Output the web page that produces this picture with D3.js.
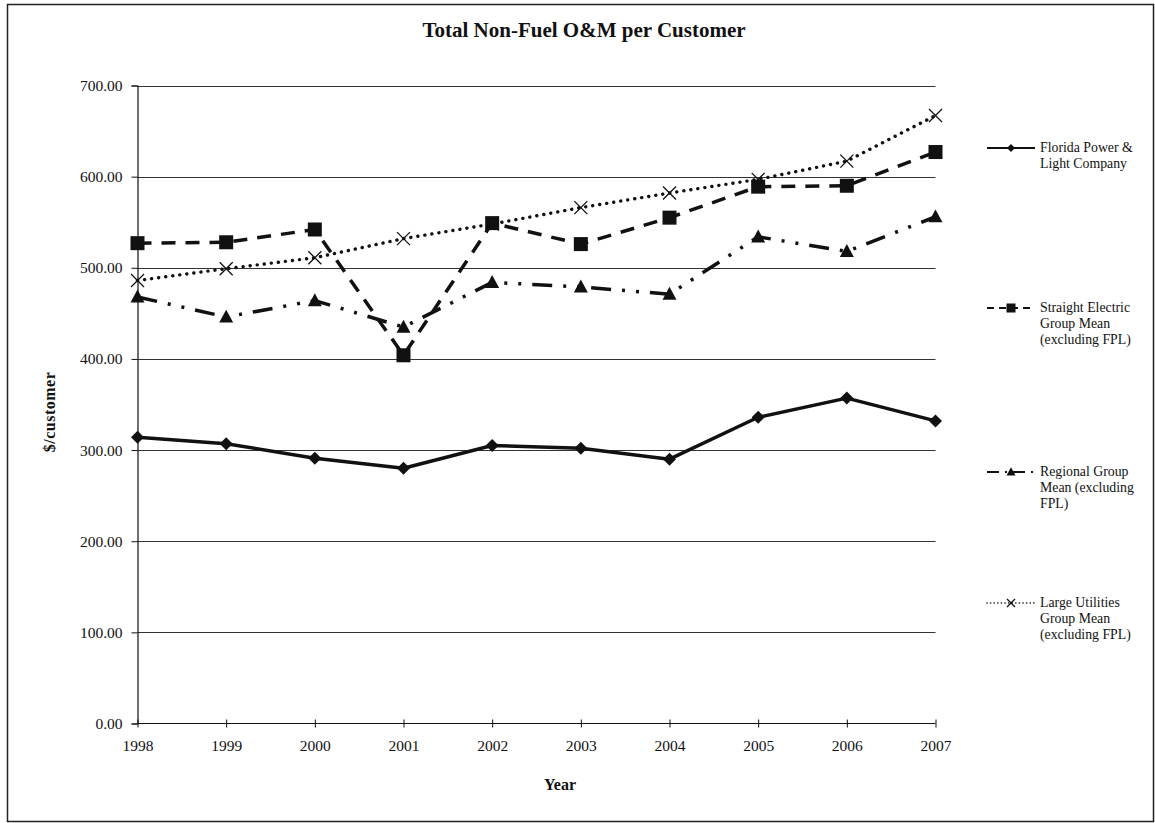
<!DOCTYPE html>
<html>
<head>
<meta charset="utf-8">
<script src="https://cdn.jsdelivr.net/npm/d3@7"></script>
<style>
  html, body { margin: 0; padding: 0; background: #fff; }
  svg text { font-family: "Liberation Serif", "DejaVu Serif", serif; fill: #111; }
</style>
</head>
<body>
<svg id="chart" width="1155" height="823"></svg>
<script>
// Total non-fuel O&M cost per customer, 1998–2007 ($/customer)
const years = [1998, 1999, 2000, 2001, 2002, 2003, 2004, 2005, 2006, 2007];
const fplValues      = [314, 307, 291, 280, 305, 302, 290, 336, 357, 332];
const straightValues = [527, 528, 542, 404, 549, 526, 555, 589, 590, 627];
const regionalValues = [468, 446, 464, 435, 484, 479, 471, 534, 518, 556];
const largeValues    = [486, 499, 511, 532, 548, 566, 582, 597, 617, 667];
const yTicks = [0, 100, 200, 300, 400, 500, 600, 700];

const seriesNames = [
  ["Florida Power &", "Light Company"],
  ["Straight Electric", "Group Mean", "(excluding FPL)"],
  ["Regional Group", "Mean (excluding", "FPL)"],
  ["Large Utilities", "Group Mean", "(excluding FPL)"]
];

const series = [
  { values: fplValues,      marker: "diamond",  dash: null,                 width: 3.5, cap: "butt"  },
  { values: straightValues, marker: "square",   dash: "14,10",              width: 3.5, cap: "butt"  },
  { values: regionalValues, marker: "triangle", dash: "20,11,3,11,3,11",    width: 3.5, cap: "butt"  },
  { values: largeValues,    marker: "cross",    dash: "0.1,7",              width: 3.4, cap: "round" }
];

const svg = d3.select("#chart");

// Outer frame
svg.append("rect")
  .attr("x", 7.5).attr("y", 4.5).attr("width", 1146).attr("height", 817)
  .attr("fill", "none").attr("stroke", "#222").attr("stroke-width", 1.5);

const plot = { left: 137.5, right: 935.5, top: 85.5, bottom: 723.5 };

const x = d3.scalePoint().domain(years).range([plot.left, plot.right]);
const y = d3.scaleLinear().domain([0, 700]).range([plot.bottom, plot.top]);

// Title
svg.append("text")
  .attr("x", 584).attr("y", 37)
  .attr("text-anchor", "middle")
  .attr("font-size", 21).attr("font-weight", "bold")
  .text("Total Non-Fuel O&M per Customer");

// Horizontal gridlines
svg.append("g")
  .selectAll("line")
  .data(yTicks.filter(d => d > 0))
  .join("line")
  .attr("x1", plot.left).attr("x2", plot.right)
  .attr("y1", d => Math.round(y(d)) + 0.5).attr("y2", d => Math.round(y(d)) + 0.5)
  .attr("stroke", "#333").attr("stroke-width", 1);

// Y axis
const yAxis = d3.axisLeft(y).tickValues(yTicks).tickSize(6).tickPadding(9)
  .tickFormat(d3.format(".2f"));
const gy = svg.append("g").attr("transform", `translate(${plot.left},0)`).call(yAxis);
gy.select(".domain").attr("stroke", "#111").attr("stroke-width", 1.2);
gy.selectAll(".tick line").attr("stroke", "#111");
gy.selectAll(".tick text")
  .attr("font-family", "Liberation Serif, serif").attr("font-size", 15.5).attr("fill", "#111");

// X axis
const xAxis = d3.axisBottom(x).tickSize(6).tickPadding(10);
const gx = svg.append("g").attr("transform", `translate(0,${plot.bottom})`).call(xAxis);
gx.select(".domain").attr("stroke", "#111").attr("stroke-width", 1.2)
  .attr("d", `M${plot.left},0H${plot.right}`);
gx.selectAll(".tick line").attr("stroke", "#111").attr("y1", -4).attr("y2", 4);
gx.selectAll(".tick text")
  .attr("font-family", "Liberation Serif, serif").attr("font-size", 15.5).attr("fill", "#111");

// Axis titles
svg.append("text")
  .attr("x", 560).attr("y", 790)
  .attr("text-anchor", "middle").attr("font-size", 16).attr("font-weight", "bold")
  .text("Year");
svg.append("text")
  .attr("transform", "translate(55,412) rotate(-90)")
  .attr("text-anchor", "middle").attr("font-size", 16).attr("font-weight", "bold")
  .attr("letter-spacing", 0.5)
  .text("$/customer");

// Marker drawing
function drawMarker(g, type, cx, cy, s) {
  if (type === "diamond") {
    g.append("path")
      .attr("d", `M${cx},${cy - s}L${cx + s},${cy}L${cx},${cy + s}L${cx - s},${cy}Z`)
      .attr("fill", "#111");
  } else if (type === "square") {
    g.append("rect")
      .attr("x", cx - s).attr("y", cy - s).attr("width", 2 * s).attr("height", 2 * s)
      .attr("fill", "#111");
  } else if (type === "triangle") {
    g.append("path")
      .attr("d", `M${cx},${cy - s * 1.05}L${cx + s},${cy + s * 0.8}L${cx - s},${cy + s * 0.8}Z`)
      .attr("fill", "#111");
  } else if (type === "cross") {
    g.append("path")
      .attr("d", `M${cx - s},${cy - s}L${cx + s},${cy + s}M${cx - s},${cy + s}L${cx + s},${cy - s}`)
      .attr("stroke", "#111").attr("stroke-width", 1.3).attr("fill", "none");
  }
}

const markerSize = { diamond: 6.5, square: 7, triangle: 7, cross: 6.5 };

const line = d3.line().x((d, i) => x(years[i])).y(d => y(d));

series.forEach(s => {
  const g = svg.append("g");
  g.append("path")
    .datum(s.values)
    .attr("d", line)
    .attr("fill", "none")
    .attr("stroke", "#111")
    .attr("stroke-width", s.width)
    .attr("stroke-linecap", s.cap)
    .attr("stroke-linejoin", "round")
    .attr("stroke-dasharray", s.dash);
  s.values.forEach((v, i) => drawMarker(g, s.marker, x(years[i]), y(v), markerSize[s.marker]));
});

// Legend
const legendY = [148, 308, 472, 603];
const legendSymbol = { diamond: 4, square: 4.5, triangle: 4.5, cross: 4 };
const legendDash = { diamond: null, square: "7,5", triangle: "12,6,2,6", cross: "0.1,3.5" };
series.forEach((s, k) => {
  const g = svg.append("g").attr("transform", `translate(0,${legendY[k]})`);
  g.append("line")
    .attr("x1", 987).attr("x2", 1035).attr("y1", 0).attr("y2", 0)
    .attr("stroke", "#111")
    .attr("stroke-width", s.marker === "cross" ? 1.6 : 2)
    .attr("stroke-linecap", s.cap)
    .attr("stroke-dasharray", legendDash[s.marker]);
  drawMarker(g, s.marker, 1011, 0, legendSymbol[s.marker]);
  const t = g.append("text").attr("x", 1040).attr("y", 4).attr("font-size", 13.8);
  seriesNames[k].forEach((ln, j) => {
    t.append("tspan").attr("x", 1040).attr("dy", j === 0 ? 0 : 16).text(ln);
  });
});
</script>
</body>
</html>
